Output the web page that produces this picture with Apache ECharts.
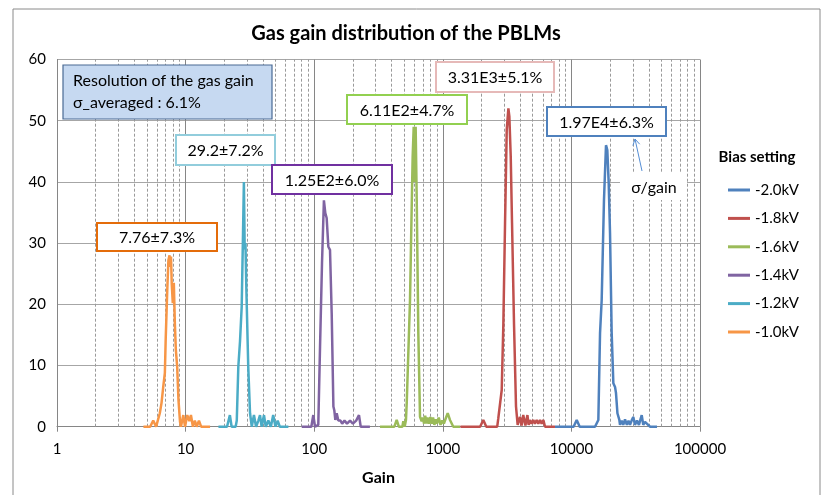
<!DOCTYPE html>
<html>
<head>
<meta charset="utf-8">
<script src="https://cdn.jsdelivr.net/npm/echarts@6/dist/echarts.min.js"></script>
<style>html,body{margin:0;padding:0;background:#fff}#c{width:828px;height:495px}</style>
</head>
<body>
<div id="c"></div>
<script>
// ---- data (gain, count) ----
const seriesNames = ['-2.0kV', '-1.8kV', '-1.6kV', '-1.4kV', '-1.2kV', '-1.0kV'];
const xTickLabels = ['1', '10', '100', '1000', '10000', '100000'];
const yTicks = [0, 10, 20, 30, 40, 50, 60];

const kv20 = [[7450,0],[10400,0],[11000,1.1],[11600,0],[15260,0],[16200,1.1],[16700,15.3],[17200,20.7],[17920,37],[18580,46],[19020,45.2],[19500,39.8],[19970,31.6],[20570,15.3],[21190,7.1],[21840,6.5],[22220,5.5],[22800,2.2],[23600,1.1],[23880,0.3],[24600,1],[25300,0.3],[26120,1.2],[27000,0.3],[27800,1],[28560,0.3],[29400,1],[30290,1.6],[31200,0.3],[32360,1],[33500,0.3],[35220,1.9],[36200,0.3],[37340,0.8],[40840,0],[46340,0]];
const kv18 = [[1370,0],[1950,0],[2065,1.1],[2180,0],[2650,0],[2702,1.4],[2800,1.4],[2872,6],[2958,16.9],[3048,33.3],[3141,48.5],[3236,52],[3292,50.7],[3375,44.1],[3454,33.3],[3578,16.9],[3709,3.3],[3820,0.3],[3982,1.6],[4100,0.2],[4224,1.9],[4390,0.2],[4550,1.9],[4650,0.3],[4765,1.1],[4900,0.5],[5058,1.1],[5200,0.5],[5372,1.1],[5530,0.5],[5702,1.1],[5870,0.5],[6053,1.1],[6237,0],[7450,0]];
const kv16 = [[325,0],[420,0],[438,1.1],[455,0],[485,0],[493,0.9],[505,0],[517,1.1],[524,3.8],[539,4.1],[556,20.7],[573,35.9],[583,44.1],[594,49],[600,40],[605,48],[615,49],[627,37],[645,15.3],[665,1.6],[685,0.9],[700,1.5],[715,0.5],[730,1.8],[745,0.5],[760,1.5],[780,0.5],[800,1.6],[820,0.5],[840,1.5],[860,0.3],[880,1.2],[900,0.5],[930,1.5],[960,0.3],[990,1.0],[1020,0.5],[1060,1.5],[1092,2.2],[1137,1.1],[1207,0],[1361,0]];
const kv14 = [[80,0],[95,0],[98.4,1.9],[101.5,0],[107.6,0.3],[111,13],[115,26.7],[119,37],[122,34.9],[125,34.1],[128.8,29.4],[132.7,28.9],[136.8,18.5],[141,3.3],[143.3,2.7],[146,1.1],[149.6,2.2],[154,1],[160,1],[165,0.5],[172,1],[180,0.5],[190,1],[200,0.5],[212,1],[223,1.9],[230,0],[271,0]];
const kv12 = [[18,0],[21,0],[22.1,1.9],[22.8,0],[24.5,0],[25,1],[25.7,9.8],[26.5,14],[27.3,19.6],[27.9,30.5],[28.4,40],[28.8,29],[29.2,30],[29.7,22.3],[30.7,9.8],[31.7,2.2],[32.7,0],[34,1.9],[35.3,0],[36.8,1],[37.9,1.9],[39,0],[40.7,1.9],[42,0],[44,1],[46,0],[48,1.9],[50,0],[52,1],[54,0],[63,0]];
const kv10 = [[4.7,0],[5.3,0],[5.6,1],[5.9,0],[6.3,2.2],[6.5,3.9],[6.7,6.5],[6.9,8.8],[7.0,14.2],[7.2,22.3],[7.35,27.2],[7.5,28],[7.6,26.1],[7.7,27.8],[7.8,23.4],[7.95,20.2],[8.1,23.5],[8.25,16.9],[8.4,12.5],[8.6,9.8],[8.8,4.4],[9.05,0.8],[9.2,0],[9.6,1.9],[9.9,0],[10.3,1.9],[10.7,0.9],[11.0,1.9],[11.4,0],[11.8,1],[12.2,0],[12.7,1],[13.2,0],[15.5,0]];
const seriesData = [kv20, kv18, kv16, kv14, kv12, kv10];
const colors = ['#4F81BD', '#C0504D', '#9BBB59', '#8064A2', '#4BACC6', '#F79646'];

const annotations = [
  {text: '7.76±7.3%',   border: '#E46C0A', box: [97, 223, 120, 28]},
  {text: '29.2±7.2%',   border: '#92CDDC', box: [176, 135, 99, 30]},
  {text: '1.25E2±6.0%', border: '#7030A0', box: [272, 165, 120, 29]},
  {text: '6.11E2±4.7%', border: '#92D050', box: [347, 95, 120, 29]},
  {text: '3.31E3±5.1%', border: '#E6B9B8', box: [436, 62, 118, 30]},
  {text: '1.97E4±6.3%', border: '#4F81BD', box: [547, 107, 119, 29]}
];

const FONT = 'Lato, "Open Sans", sans-serif';

// minor (dashed) vertical grid values 2..9 per decade
const minorVals = [];
for (let d = 1; d < 100000; d *= 10) for (let k = 2; k <= 9; k++) minorVals.push(d * k);

const graphics = [
  {type: 'rect', shape: {x: 13, y: 9, width: 807, height: 500}, style: {fill: 'none', stroke: '#8a8a8a', lineWidth: 1}, z: -10, silent: true},
  {type: 'rect', shape: {x: 63, y: 65, width: 209, height: 54}, style: {fill: '#C6D9F1', stroke: '#4A6A94', lineWidth: 1.2}, z: 50},
  {type: 'text', style: {x: 73, y: 92, text: 'Resolution of the gas gain\nσ_averaged : 6.1%', font: '16px ' + FONT, fill: '#000', lineHeight: 22, verticalAlign: 'middle', align: 'left'}, z: 51},
  {type: 'rect', shape: {x: 620, y: 172, width: 67, height: 28}, style: {fill: '#fff'}, z: 50},
  {type: 'text', style: {x: 654, y: 188, text: 'σ/gain', font: '16px ' + FONT, fill: '#000', align: 'center', verticalAlign: 'middle'}, z: 51},
  {type: 'polyline', shape: {points: [[642, 171], [635, 139]]}, style: {stroke: '#558ED5', lineWidth: 1}, z: 51},
  {type: 'polyline', shape: {points: [[632.9, 145.7], [635, 139], [639.7, 144.2]]}, style: {stroke: '#558ED5', lineWidth: 1, fill: 'none'}, z: 51},
  {type: 'text', style: {x: 757, y: 157, text: 'Bias setting', font: 'bold 15px ' + FONT, fill: '#000', align: 'center', verticalAlign: 'middle'}, z: 51}
];
annotations.forEach(a => {
  const [x, y, w, h] = a.box;
  graphics.push({type: 'rect', shape: {x, y, width: w, height: h}, style: {fill: '#fff', stroke: a.border, lineWidth: 2}, z: 50});
  graphics.push({type: 'text', style: {x: x + w / 2, y: y + h / 2 + 1, text: a.text, font: '16px ' + FONT, fill: '#000', align: 'center', verticalAlign: 'middle'}, z: 51});
});

const series = seriesNames.map((n, i) => ({
  name: n, type: 'line', data: seriesData[i], symbol: 'none', z: 5,
  lineStyle: {color: colors[i], width: 2.5}, itemStyle: {color: colors[i]}
}));
series.push({
  name: '_grid', type: 'line', data: [], z: 1, silent: true,
  markLine: {silent: true, symbol: 'none', animation: false, label: {show: false},
    lineStyle: {type: [3, 2], color: '#9a9a9a', width: 1},
    data: minorVals.map(v => ({xAxis: v}))}
});

const chart = echarts.init(document.getElementById('c'));
chart.setOption({
  animation: false,
  backgroundColor: '#fff',
  color: colors,
  title: {text: 'Gas gain distribution of the PBLMs', left: 401, top: 19, textAlign: 'center',
    textStyle: {fontFamily: FONT, fontWeight: 'bold', fontSize: 20, color: '#000'}},
  legend: {data: seriesNames, orient: 'vertical', left: 723, top: 177, icon: 'rect', itemWidth: 22, itemHeight: 3,
    itemGap: 12.4, textStyle: {fontFamily: FONT, fontSize: 15, color: '#000', lineHeight: 16}},
  grid: {left: 57, right: 128, top: 59.5, bottom: 68.3},
  xAxis: {type: 'log', logBase: 10, min: 1, max: 100000, name: 'Gain', nameLocation: 'middle', nameGap: 43,
    nameTextStyle: {fontFamily: FONT, fontWeight: 'bold', fontSize: 16, color: '#000'},
    axisLine: {lineStyle: {color: '#868686'}}, axisTick: {show: true, length: 5, lineStyle: {color: '#868686'}},
    axisLabel: {fontFamily: FONT, fontSize: 15, color: '#000', margin: 15,
      formatter: v => xTickLabels[Math.round(Math.log10(v))] || ''},
    splitLine: {show: true, lineStyle: {color: '#868686', width: 1}}},
  yAxis: {type: 'value', min: 0, max: 60, interval: 10,
    axisLine: {show: true, lineStyle: {color: '#868686'}}, axisTick: {show: false},
    axisLabel: {fontFamily: FONT, fontSize: 15, color: '#000', margin: 11, formatter: v => String(v)},
    splitLine: {lineStyle: {color: '#a6a6a6', width: 1}}},
  series: series,
  graphic: graphics
});
</script>
</body>
</html>
